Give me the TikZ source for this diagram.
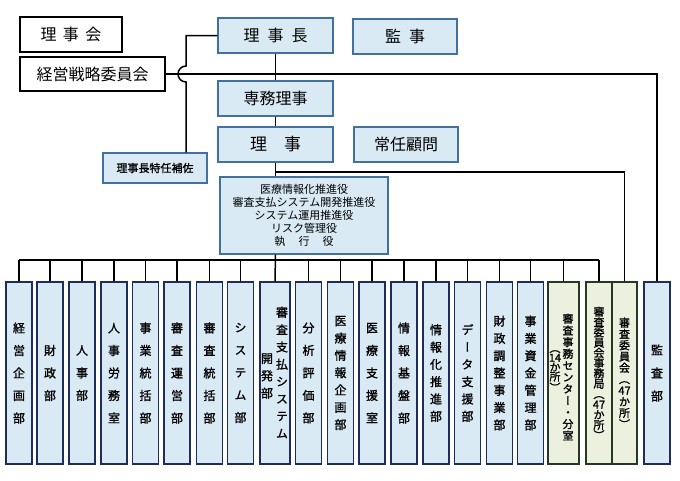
\documentclass[tikz,border=0pt]{standalone}
\usepackage{fontspec}
\setmainfont{Noto Sans CJK JP}
\newfontfamily\tatefont[RawFeature=+vert, FakeBold=1.2]{Noto Sans CJK JP}
\newfontfamily\semibold[FakeBold=1.2]{Noto Sans CJK JP}
\usetikzlibrary{positioning}
\definecolor{boxblue}{HTML}{DAEAF4}
\definecolor{topline}{HTML}{41719C}
\definecolor{colline}{HTML}{1F2D5A}
\definecolor{boxgreen}{HTML}{EBF1DE}
\definecolor{grline}{HTML}{223A22}
\tikzset{
  topbox/.style={draw=topline, fill=boxblue, line width=1.2pt, minimum height=35pt, inner sep=0pt, font=\fontsize{16}{18}\selectfont},
  plainbox/.style={draw=black, fill=white, line width=1.2pt, minimum height=35pt, inner sep=0pt, font=\fontsize{16}{18}\selectfont},
  colbox/.style={draw=colline, fill=boxblue, line width=1.2pt, minimum width=26pt, minimum height=182pt, inner sep=0pt, align=center, font=\tatefont\fontsize{12}{22.5}\selectfont},
  midtate/.style={font=\tatefont\fontsize{12}{17.3}\selectfont},
  grbox/.style={colbox, draw=grline, fill=boxgreen},
  smalltate/.style={align=center, inner sep=0pt, font=\tatefont\fontsize{11}{11.3}\selectfont},
  link/.style={line width=1.5pt}
}
\begin{document}
\begin{tikzpicture}[x=1pt,y=-1pt]
\useasboundingbox (0,0) rectangle (680,480);

% top
\node[plainbox, minimum width=102pt] (rijikai) at (71,34.5) {理\hspace{0.4em}事\hspace{0.4em}会};
\node[plainbox, minimum width=145pt, minimum height=34pt] (keiei) at (92.5,74) {経営戦略委員会};
\node[topbox, minimum width=115pt] (rijicho) at (275.5,35.5) {理\hspace{0.5em}事\hspace{0.5em}長};
\node[topbox, minimum width=104pt] (kanji) at (405,36.5) {監\hspace{0.5em}事};
\node[topbox, minimum width=115pt] (senmu) at (275.5,98.5) {専務理事};
\node[topbox, minimum width=115pt, font=\fontsize{17}{19}\selectfont] (riji) at (275.5,144.5) {理\hspace{1em}事};
\node[topbox, minimum width=104pt] (komon) at (406,144.5) {常任顧問};
\node[topbox, minimum width=104pt, minimum height=30pt, font=\semibold\fontsize{11}{13}\selectfont] (hosa) at (155,168) {理事長特任補佐};
\node[topbox, minimum width=168pt, minimum height=77pt, align=center, font=\fontsize{11}{13}\selectfont] (yaku) at (304,215.5)
  {医療情報化推進役\\審査支払システム開発推進役\\システム運用推進役\\リスク管理役\\執\hspace{1.2em}行\hspace{1.2em}役};

% departments
\node[colbox] (keikaku) at (19,373) {経\\営\\企\\画\\部};
\node[colbox] (zaisei) at (50,373) {財\\政\\部};
\node[colbox] (jinji) at (82,373) {人\\事\\部};
\node[colbox] (roumu) at (114,373) {人\\事\\労\\務\\室};
\node[colbox] (tokatsu) at (145.5,373) {事\\業\\統\\括\\部};
\node[colbox] (unei) at (177,373) {審\\査\\運\\営\\部};
\node[colbox] (shinsatokatsu) at (209.5,373) {審\\査\\統\\括\\部};
\node[colbox] (system) at (240.5,373) {シ\\ス\\テ\\ム\\部};
\node[colbox, minimum width=30pt] (kaihatsu) at (275,373) {};
\node[midtate, align=center, inner sep=0pt] (kaihatsuA) at (282,372.5) {審\\査\\支\\払\\シ\\ス\\テ\\ム};
\node[midtate, align=center, inner sep=0pt] (kaihatsuB) at (267,376) {開\\発\\部};
\node[colbox] (bunseki) at (308.5,373) {分\\析\\評\\価\\部};
\node[colbox, midtate] (iryojoho) at (340.5,373) {医\\療\\情\\報\\企\\画\\部};
\node[colbox] (iryoshien) at (372,373) {医\\療\\支\\援\\室};
\node[colbox] (kiban) at (404,373) {情\\報\\基\\盤\\部};
\node[colbox, midtate] (suishin) at (436,373) {情\\報\\化\\推\\進\\部};
\node[colbox, midtate] (datashien) at (467.5,373) {デ\\ー\\タ\\支\\援\\部};
\node[colbox, midtate] (chosei) at (499.5,373) {財\\政\\調\\整\\事\\業\\部};
\node[colbox, midtate] (shikin) at (530.5,373) {事\\業\\資\\金\\管\\理\\部};
\node[grbox, minimum width=31pt] (center) at (563.5,373) {};
\node[smalltate, font=\tatefont\fontsize{11}{11.7}\selectfont] (centerA) at (568,377) {審\\査\\事\\務\\セ\\ン\\タ\\ー\\・\\分\\室};
\node[smalltate, font=\tatefont\fontsize{11}{9.5}\selectfont] (centerB) at (555,371) {（\\14\\か\\所\\）};
\node[grbox, font=\tatefont\fontsize{11}{10.3}\selectfont] (jimukyoku) at (599,373) {審\\査\\委\\員\\会\\事\\務\\局\\（\\47\\か\\所\\）};
\node[grbox, minimum width=25pt, font=\tatefont\fontsize{11}{11.3}\selectfont] (iinkai) at (624.5,373) {審\\査\\委\\員\\会\\（\\47\\か\\所\\）};
\node[colbox, font=\tatefont\fontsize{12}{23}\selectfont] (kansa) at (657,373) {監\\査\\部};

\coordinate (hopT) at (186,66);
\coordinate (hopB) at (186,82);
\coordinate (line1) at (275.5,172);
\coordinate (bus) at (0,260);

\begin{scope}[link]
\draw (rijicho.west) -| (hopT) arc[start angle=270, end angle=90, radius=8] -- (hopB |- hosa.north);
\draw (keiei.east) -| (kansa.north);
\draw (rijicho.south) -- (senmu.north);
\draw (senmu.south) -- (riji.north);
\draw (riji.south) -- (riji.south |- yaku.north);
\draw (line1) -| (iinkai.north);
\draw (riji.south |- yaku.south) -- (kaihatsu.north);
\draw (keikaku.north |- bus) -- (jimukyoku.north |- bus);

\draw (keikaku.north) -- (keikaku.north |- bus);
\draw (zaisei.north) -- (zaisei.north |- bus);
\draw (jinji.north) -- (jinji.north |- bus);
\draw (roumu.north) -- (roumu.north |- bus);
\draw (tokatsu.north) -- (tokatsu.north |- bus);
\draw (unei.north) -- (unei.north |- bus);
\draw (shinsatokatsu.north) -- (shinsatokatsu.north |- bus);
\draw (system.north) -- (system.north |- bus);
\draw (bunseki.north) -- (bunseki.north |- bus);
\draw (iryojoho.north) -- (iryojoho.north |- bus);
\draw (iryoshien.north) -- (iryoshien.north |- bus);
\draw (kiban.north) -- (kiban.north |- bus);
\draw (suishin.north) -- (suishin.north |- bus);
\draw (datashien.north) -- (datashien.north |- bus);
\draw (chosei.north) -- (chosei.north |- bus);
\draw (shikin.north) -- (shikin.north |- bus);
\draw (center.north) -- (center.north |- bus);
\draw (jimukyoku.north) -- (jimukyoku.north |- bus);
\end{scope}

\end{tikzpicture}
\end{document}
